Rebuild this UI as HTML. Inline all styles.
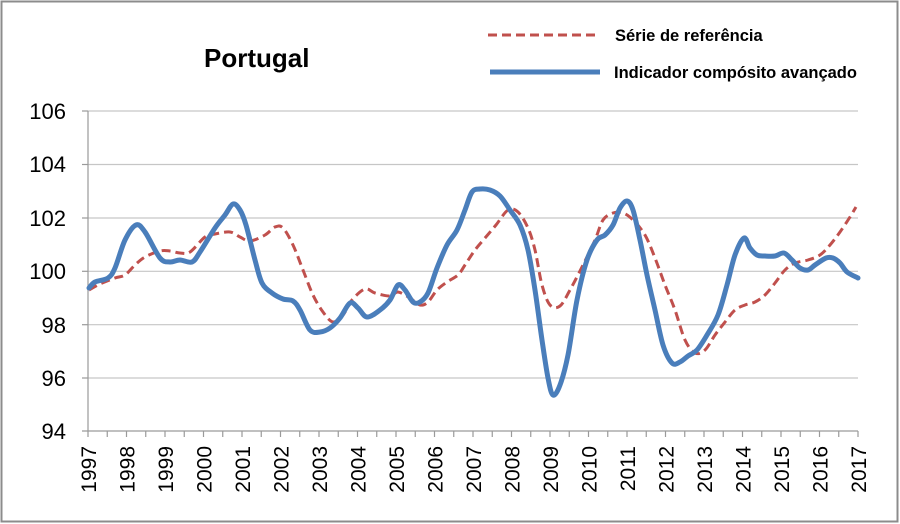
<!DOCTYPE html>
<html><head><meta charset="utf-8"><style>
html,body{margin:0;padding:0;background:#fff}
svg{display:block;font-family:"Liberation Sans",sans-serif}
</style></head><body>
<svg width="900" height="524" viewBox="0 0 900 524" xmlns="http://www.w3.org/2000/svg">
<rect x="1.5" y="1.5" width="896" height="520" fill="#fff" stroke="#8c8c8c" stroke-width="2"/>
<g stroke="#c6c6c6" stroke-width="1.2">
<line x1="88" y1="111" x2="858" y2="111"/>
<line x1="88" y1="164.5" x2="858" y2="164.5"/>
<line x1="88" y1="218" x2="858" y2="218"/>
<line x1="88" y1="271.3" x2="858" y2="271.3"/>
<line x1="88" y1="324.7" x2="858" y2="324.7"/>
<line x1="88" y1="378" x2="858" y2="378"/>
</g>
<g stroke="#9a9a9a" stroke-width="1.2">
<line x1="88" y1="111" x2="88" y2="431"/>
<line x1="82" y1="431" x2="858" y2="431"/>
<line x1="82" y1="111" x2="88" y2="111"/><line x1="82" y1="164.5" x2="88" y2="164.5"/><line x1="82" y1="218" x2="88" y2="218"/><line x1="82" y1="271.3" x2="88" y2="271.3"/><line x1="82" y1="324.7" x2="88" y2="324.7"/><line x1="82" y1="378" x2="88" y2="378"/>
</g>
<g id="ticks" stroke="#9a9a9a" stroke-width="1.2"></g>
<g font-size="22" fill="#000" text-anchor="end">
<text x="66" y="119">106</text><text x="66" y="172">104</text><text x="66" y="226">102</text><text x="66" y="279">100</text><text x="66" y="333">98</text><text x="66" y="386">96</text><text x="66" y="439">94</text>
</g>
<g id="xl" font-size="21" fill="#000" text-anchor="end"></g>
<text x="204" y="67" font-size="26" font-weight="bold">Portugal</text>
<line x1="488" y1="35" x2="600" y2="35" stroke="#c0504d" stroke-width="3" stroke-dasharray="9,5"/>
<text x="615" y="41" font-size="16.5" font-weight="bold">Série de referência</text>
<line x1="490" y1="72" x2="600" y2="72" stroke="#4a7ebb" stroke-width="5"/>
<text x="614" y="78" font-size="16.5" font-weight="bold">Indicador compósito avançado</text>
<path id="red" fill="none" stroke="#c0504d" stroke-width="3" stroke-dasharray="9,5"/>
<path id="blue" fill="none" stroke="#4a7ebb" stroke-width="5" stroke-linejoin="round" stroke-linecap="round"/>
</svg>
<script>
var ns="http://www.w3.org/2000/svg";
var t=document.getElementById("ticks"),xl=document.getElementById("xl");
for(var i=0;i<=40;i++){var x=88+i*770/40;var l=document.createElementNS(ns,"line");l.setAttribute("x1",x);l.setAttribute("x2",x);l.setAttribute("y1",431);l.setAttribute("y2",437);t.appendChild(l);}
for(var y=0;y<=20;y++){var x=88+y*38.5+8;var tx=document.createElementNS(ns,"text");tx.setAttribute("transform","translate("+x+",446) rotate(-90)");tx.textContent=1997+y;xl.appendChild(tx);}
function cr(p){var d="M"+p[0][0]+","+p[0][1];for(var i=0;i<p.length-1;i++){var a=p[i-1]||p[i],b=p[i],c=p[i+1],e=p[i+2]||c;d+=" C"+(b[0]+(c[0]-a[0])/6)+","+(b[1]+(c[1]-a[1])/6)+" "+(c[0]-(e[0]-b[0])/6)+","+(c[1]-(e[1]-b[1])/6)+" "+c[0]+","+c[1];}return d;}
var B=[[89,288],[95,282],[108,278],[115,268],[125,240],[136,225],[145,232],[160,258],[170,262],[180,260],[192,262],[200,252],[215,228],[225,215],[233,204],[240,210],[246,225],[255,260],[262,283],[272,293],[283,299],[293,301],[300,310],[310,330],[320,332],[330,328],[340,318],[350,303],[358,308],[367,317],[380,310],[390,300],[398,285],[405,290],[413,302],[420,302],[428,293],[437,268],[447,245],[457,230],[465,210],[472,192],[480,189],[490,190],[500,196],[510,210],[520,225],[528,250],[535,290],[542,340],[548,378],[553,395],[560,385],[568,355],[577,300],[587,260],[597,240],[605,235],[613,225],[620,208],[627,201],[633,210],[640,240],[647,275],[655,310],[663,345],[672,363],[680,362],[688,356],[697,350],[707,335],[718,315],[727,285],[735,255],[744,238],[750,248],[757,255],[765,256],[775,256],[784,253],[792,260],[800,268],[808,270],[815,265],[826,258],[833,258],[840,263],[847,272],[858,278]];
var R=[[89,290],[100,284],[115,278],[125,275],[135,265],[145,257],[160,251],[170,251],[180,253],[190,252],[205,237],[215,234],[230,232],[240,237],[250,241],[265,235],[275,227],[283,228],[293,245],[303,270],[313,295],[323,312],[333,322],[343,315],[352,300],[365,289],[375,293],[390,296],[398,292],[410,298],[420,305],[428,302],[437,290],[447,282],[458,275],[465,265],[475,250],[485,238],[496,225],[508,210],[518,212],[528,228],[535,250],[542,285],[550,305],[560,306],[570,290],[583,265],[595,240],[603,220],[613,213],[623,213],[633,220],[645,235],[655,258],[665,285],[675,310],[685,340],[695,353],[705,350],[715,335],[725,322],[735,310],[745,305],[755,302],[765,295],[775,283],[785,270],[795,263],[808,260],[820,255],[830,245],[840,232],[850,217],[856,207]];
document.getElementById("blue").setAttribute("d",cr(B));
document.getElementById("red").setAttribute("d",cr(R));
</script>
</body></html>
